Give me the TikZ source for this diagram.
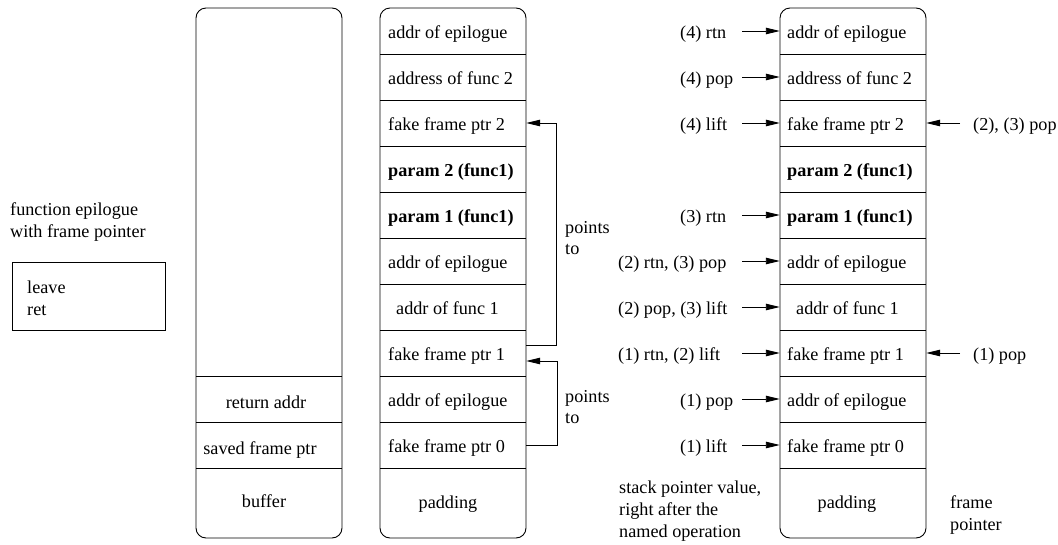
\documentclass[tikz,border=0pt]{standalone}
\usepackage{fontspec}
\setmainfont{Liberation Serif}
\usetikzlibrary{arrows.meta}
\begin{document}
\begin{tikzpicture}[x=1pt,y=-1pt,
  font=\fontsize{18.2pt}{22pt}\selectfont,
  txt/.style={inner sep=0pt, anchor=base west},
  ctxt/.style={inner sep=0pt, anchor=base},
  cellc/.style={minimum width=146pt, minimum height=46pt, inner sep=0pt, draw=none},
  box/.style={line width=0.9pt, rounded corners=10pt},
  sep/.style={line width=0.9pt},
  arr/.style={line width=0.9pt, -{Triangle[length=14pt,width=6.5pt]}}]
\useasboundingbox (0,0) rectangle (1058,544);

% ---------- left notes ----------
\node[txt] (fe1) at (10,215) {function epilogue};
\node[txt] (fe2) at (10,237) {with frame pointer};
\draw[sep] (12,262) rectangle (165,330);
\node[txt] (lv) at (27,293) {leave};
\node[txt] (rt) at (27,315) {ret};

% ---------- buffer column ----------
\draw[box] (196,8) rectangle (342,538);
\foreach \y in {376,422,468} \draw[sep] (196,\y) -- (342,\y);
\node[ctxt] (b1) at (266,408) {return addr};
\node[ctxt] (b2) at (260,454) {saved frame ptr};
\node[ctxt] (b3) at (264,507) {buffer};

% ---------- middle column ----------
\draw[box] (380,8) rectangle (526,538);
\foreach \y in {54,100,146,192,238,284,330,376,422,468} \draw[sep] (380,\y) -- (526,\y);
\foreach \i/\c in {1/31,2/77,3/123,4/169,5/215,6/261,7/307,8/353,9/399,10/445}
  \node[cellc] (m\i) at (453,\c) {};
\node[txt] (mt1) at (388,38.5) {addr of epilogue};
\node[txt] (mt2) at (388,84.5) {address of func 2};
\node[txt] (mt3) at (388,130.5) {fake frame ptr 2};
\node[txt] (mt4) at (388,176.5) {\textbf{param 2 (func1)}};
\node[txt] (mt5) at (388,222.5) {\textbf{param 1 (func1)}};
\node[txt] (mt6) at (388,268.5) {addr of epilogue};
\node[txt] (mt7) at (396,314.5) {addr of func 1};
\node[txt] (mt8) at (388,360.5) {fake frame ptr 1};
\node[txt] (mt9) at (388,406.5) {addr of epilogue};
\node[txt] (mt10) at (388,452.5) {fake frame ptr 0};
\node[ctxt] (mt11) at (448,508) {padding};

% points-to connectors
\draw[arr] ([yshift=8pt]m8.east) -- ++(30,0) |- (m3.east);
\draw[arr] (m10.east) -- ++(31,0) |- ([yshift=-8pt]m8.east);
\node[txt] (pt1) at (565,233) {points};
\node[txt] (pt2) at (565,254) {to};
\node[txt] (pt3) at (565,402) {points};
\node[txt] (pt4) at (565,423) {to};

% ---------- right column ----------
\draw[box] (780,8) rectangle (926,538);
\foreach \y in {54,100,146,192,238,284,330,376,422,468} \draw[sep] (780,\y) -- (926,\y);
\foreach \i/\c in {1/31,2/77,3/123,4/169,5/215,6/261,7/307,8/353,9/399,10/445}
  \node[cellc] (r\i) at (853,\c) {};
\node[txt] (rt1) at (787,38.5) {addr of epilogue};
\node[txt] (rt2) at (787,84.5) {address of func 2};
\node[txt] (rt3) at (787,130.5) {fake frame ptr 2};
\node[txt] (rt4) at (787,176.5) {\textbf{param 2 (func1)}};
\node[txt] (rt5) at (787,222.5) {\textbf{param 1 (func1)}};
\node[txt] (rt6) at (787,268.5) {addr of epilogue};
\node[txt] (rt7) at (796,314.5) {addr of func 1};
\node[txt] (rt8) at (787,360.5) {fake frame ptr 1};
\node[txt] (rt9) at (787,406.5) {addr of epilogue};
\node[txt] (rt10) at (787,452.5) {fake frame ptr 0};
\node[ctxt] (rt11) at (847,508) {padding};

% stack pointer labels and arrows
\foreach \i/\c/\x/\t in {1/31/680/{(4) rtn},2/77/680/{(4) pop},3/123/680/{(4) lift},
    5/215/680/{(3) rtn},6/261/618/{(2) rtn, (3) pop},7/307/618/{(2) pop, (3) lift},
    8/353/618/{(1) rtn, (2) lift},9/399/680/{(1) pop},10/445/680/{(1) lift}}{
  \node[txt] (sl\i) at (\x,\c+7.5) {\t};
  \coordinate (sa\i) at (742,\c);
  \draw[arr] (sa\i) -- (r\i.west);
}
\node[txt] (sp1) at (619,493) {stack pointer value,};
\node[txt] (sp2) at (619,515) {right after the};
\node[txt] (sp3) at (619,537) {named operation};

% frame pointer labels and arrows
\coordinate (fa3) at (960,123);
\coordinate (fa8) at (960,353);
\draw[arr] (fa3) -- (r3.east);
\draw[arr] (fa8) -- (r8.east);
\node[txt] (fl3) at (973,130.5) {(2), (3) pop};
\node[txt] (fl8) at (973,360.5) {(1) pop};
\node[txt] (fp1) at (950,508) {frame};
\node[txt] (fp2) at (950,530) {pointer};
\end{tikzpicture}
\end{document}
